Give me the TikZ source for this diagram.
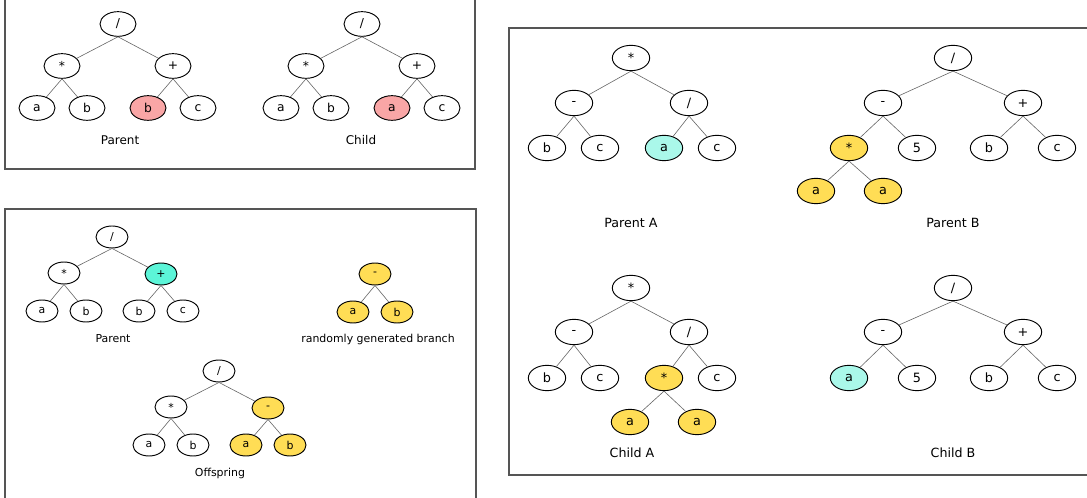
\documentclass[tikz,border=0pt]{standalone}
\usepackage{fontspec}
\setmainfont{DejaVu Sans}
\usetikzlibrary{shapes.geometric}
\definecolor{pinkn}{HTML}{F9A6A6}
\definecolor{cyanA}{HTML}{5CF5D8}
\definecolor{cyanB}{HTML}{AAF8EA}
\definecolor{yel}{HTML}{FFDD55}
\definecolor{frame}{HTML}{555555}
\definecolor{edgec}{HTML}{666666}
\begin{document}
\begin{tikzpicture}[x=0.75pt,y=-0.75pt,
  nd/.style={ellipse, draw=black, line width=0.7pt, inner sep=0pt, fill=white},
  one/.style={nd, minimum width=27pt, minimum height=18.5pt, font=\fontsize{9.2}{10}\selectfont},
  two/.style={nd, minimum width=24pt, minimum height=16.5pt, font=\fontsize{8.2}{9}\selectfont},
  three/.style={nd, minimum width=28pt, minimum height=19pt, font=\fontsize{9.6}{11}\selectfont},
  lab1/.style={font=\fontsize{9}{10}\selectfont},
  lab2/.style={font=\fontsize{8.2}{9}\selectfont},
  lab3/.style={font=\fontsize{9.5}{11}\selectfont},
  box/.style={draw=frame, line width=0.8pt},
  ed/.style={draw=edgec, line width=0.45pt}]
\useasboundingbox (0,0) rectangle (1087,498);
% frames
\draw[box] (5,-3) rectangle (475,169);
\draw[box] (5,209) rectangle (476,505);
\draw[box] (509,28) rectangle (1095,475);

% ---------- Panel 1: Parent ----------
\node[one] (pr) at (118,24) {/};
\node[one] (pm) at (62,66) {*};
\node[one] (pp) at (173,66) {+};
\node[one] (pa) at (37,108) {a};
\node[one] (pb) at (87,108) {b};
\node[one, fill=pinkn] (pb2) at (148,108) {b};
\node[one] (pc) at (198,108) {c};
\node[lab1] (plab) at (120,140) {Parent};
\draw[ed] (pr.south) -- (pm); \draw[ed] (pr.south) -- (pp);
\draw[ed] (pm.south) -- (pa); \draw[ed] (pm.south) -- (pb);
\draw[ed] (pp.south) -- (pb2); \draw[ed] (pp.south) -- (pc);

% ---------- Panel 1: Child ----------
\node[one] (cr) at (362,24) {/};
\node[one] (cm) at (306,66) {*};
\node[one] (cp) at (417,66) {+};
\node[one] (ca) at (281,108) {a};
\node[one] (cb) at (331,108) {b};
\node[one, fill=pinkn] (ca2) at (392,108) {a};
\node[one] (cc) at (442,108) {c};
\node[lab1] (clab) at (361,140) {Child};
\draw[ed] (cr.south) -- (cm); \draw[ed] (cr.south) -- (cp);
\draw[ed] (cm.south) -- (ca); \draw[ed] (cm.south) -- (cb);
\draw[ed] (cp.south) -- (ca2); \draw[ed] (cp.south) -- (cc);

% ---------- Panel 2: Parent ----------
\node[two] (qr) at (112,237) {/};
\node[two] (qm) at (64,273) {*};
\node[two, fill=cyanA] (qp) at (161,274) {+};
\node[two] (qa) at (42,311) {a};
\node[two] (qb) at (86,311) {b};
\node[two] (qb2) at (139,311) {b};
\node[two] (qc) at (183,311) {c};
\node[lab2] (qlab) at (113,339) {Parent};
\draw[ed] (qr.south) -- (qm); \draw[ed] (qr.south) -- (qp);
\draw[ed] (qm.south) -- (qa); \draw[ed] (qm.south) -- (qb);
\draw[ed] (qp.south) -- (qb2); \draw[ed] (qp.south) -- (qc);

% ---------- Panel 2: random branch ----------
\node[two, fill=yel] (rm) at (375,274) {-};
\node[two, fill=yel] (ra) at (353,312) {a};
\node[two, fill=yel] (rb) at (397,312) {b};
\node[lab2] (rlab) at (378,339) {randomly generated branch};
\draw[ed] (rm.south) -- (ra); \draw[ed] (rm.south) -- (rb);

% ---------- Panel 2: Offspring ----------
\node[two] (or) at (219,371) {/};
\node[two] (om) at (171,407) {*};
\node[two, fill=yel] (on) at (268,408) {-};
\node[two] (oa) at (149,445) {a};
\node[two] (ob) at (193,445) {b};
\node[two, fill=yel] (oa2) at (246,445) {a};
\node[two, fill=yel] (ob2) at (290,445) {b};
\node[lab2] (olab) at (220,473) {Offspring};
\draw[ed] (or.south) -- (om); \draw[ed] (or.south) -- (on);
\draw[ed] (om.south) -- (oa); \draw[ed] (om.south) -- (ob);
\draw[ed] (on.south) -- (oa2); \draw[ed] (on.south) -- (ob2);

% ---------- Panel 3: Parent A ----------
\node[three] (Ar) at (631,58) {*};
\node[three] (Am) at (574,103) {-};
\node[three] (Ad) at (689,103) {/};
\node[three] (Ab) at (547,148) {b};
\node[three] (Ac) at (600,148) {c};
\node[three, fill=cyanB] (Aa) at (664,148) {a};
\node[three] (Ac2) at (717,148) {c};
\node[lab3] (Alab) at (631,223) {Parent A};
\draw[ed] (Ar.south) -- (Am); \draw[ed] (Ar.south) -- (Ad);
\draw[ed] (Am.south) -- (Ab); \draw[ed] (Am.south) -- (Ac);
\draw[ed] (Ad.south) -- (Aa); \draw[ed] (Ad.south) -- (Ac2);

% ---------- Panel 3: Parent B ----------
\node[three] (Br) at (953,58) {/};
\node[three] (Bm) at (883,103) {-};
\node[three] (Bp) at (1023,103) {+};
\node[three, fill=yel] (Bs) at (849,148) {*};
\node[three] (B5) at (917,148) {5};
\node[three] (Bb) at (989,148) {b};
\node[three] (Bc) at (1057,148) {c};
\node[three, fill=yel] (Ba1) at (816,191) {a};
\node[three, fill=yel] (Ba2) at (883,191) {a};
\node[lab3] (Blab) at (953,223) {Parent B};
\draw[ed] (Br.south) -- (Bm); \draw[ed] (Br.south) -- (Bp);
\draw[ed] (Bm.south) -- (Bs); \draw[ed] (Bm.south) -- (B5);
\draw[ed] (Bp.south) -- (Bb); \draw[ed] (Bp.south) -- (Bc);
\draw[ed] (Bs.south) -- (Ba1); \draw[ed] (Bs.south) -- (Ba2);

% ---------- Panel 3: Child A ----------
\node[three] (Cr) at (631,288) {*};
\node[three] (Cm) at (574,332) {-};
\node[three] (Cd) at (689,332) {/};
\node[three] (Cb) at (547,378) {b};
\node[three] (Cc) at (600,378) {c};
\node[three, fill=yel] (Cs) at (664,378) {*};
\node[three] (Cc2) at (717,378) {c};
\node[three, fill=yel] (Ca1) at (630,422) {a};
\node[three, fill=yel] (Ca2) at (697,422) {a};
\node[lab3] (Clab) at (632,453) {Child A};
\draw[ed] (Cr.south) -- (Cm); \draw[ed] (Cr.south) -- (Cd);
\draw[ed] (Cm.south) -- (Cb); \draw[ed] (Cm.south) -- (Cc);
\draw[ed] (Cd.south) -- (Cs); \draw[ed] (Cd.south) -- (Cc2);
\draw[ed] (Cs.south) -- (Ca1); \draw[ed] (Cs.south) -- (Ca2);

% ---------- Panel 3: Child B ----------
\node[three] (Dr) at (953,288) {/};
\node[three] (Dm) at (883,332) {-};
\node[three] (Dp) at (1023,332) {+};
\node[three, fill=cyanB] (Da) at (849,378) {a};
\node[three] (D5) at (917,378) {5};
\node[three] (Db) at (989,378) {b};
\node[three] (Dc) at (1057,378) {c};
\node[lab3] (Dlab) at (953,453) {Child B};
\draw[ed] (Dr.south) -- (Dm); \draw[ed] (Dr.south) -- (Dp);
\draw[ed] (Dm.south) -- (Da); \draw[ed] (Dm.south) -- (D5);
\draw[ed] (Dp.south) -- (Db); \draw[ed] (Dp.south) -- (Dc);
\end{tikzpicture}
\end{document}
